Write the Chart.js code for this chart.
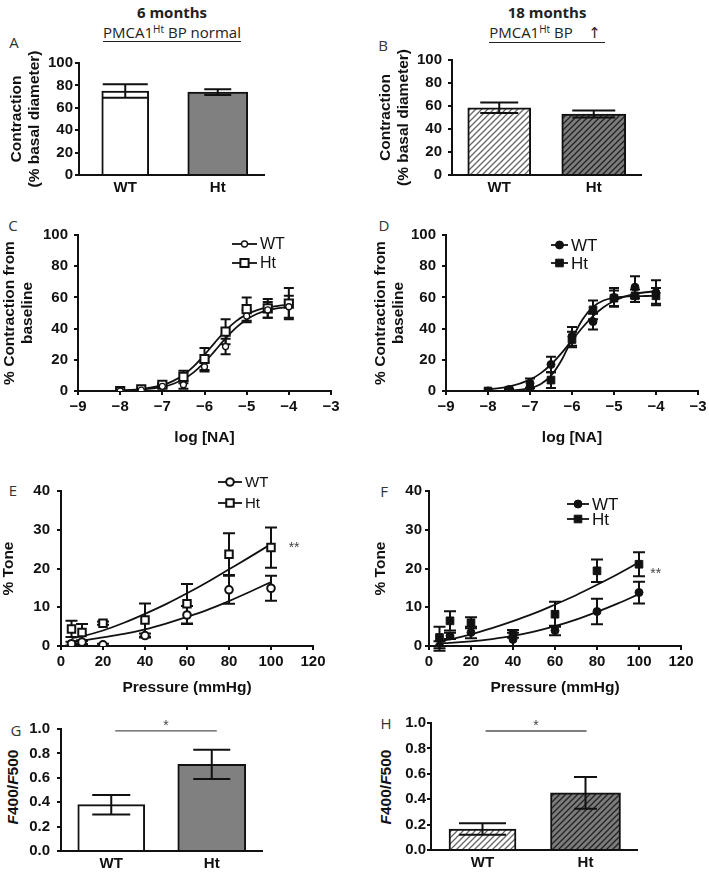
<!DOCTYPE html>
<html>
<head>
<meta charset="utf-8">
<title>PMCA1 arteries, 6 and 18 months</title>
<script src="https://cdn.jsdelivr.net/npm/chart.js@4.4.1/dist/chart.umd.min.js"></script>
<style>
  body { margin: 0; background: #fff; }
  #page { position: relative; width: 709px; height: 878px; overflow: hidden; font-family: 'Open Sans', sans-serif; color: #222; }
  #page canvas { position: absolute; }
  .txt { position: absolute; white-space: nowrap; }
  .head { font-weight: bold; font-size: 15px; line-height: 20px; text-align: center; }
  .subwrap { font-size: 15px; line-height: 18px; text-align: center; }
  .sub { display: inline-block; border-bottom: 1.5px solid #222; line-height: 17px; }
  sup { font-size: 10px; line-height: 0; vertical-align: 5px; }
  .arw { font-family: 'DejaVu Sans', sans-serif; font-size: 15px; }
  .letter { font-size: 15px; line-height: 20px; width: 20px; text-align: center; color: #333; }
  .ylab { font-family: 'Liberation Sans', Arial, sans-serif; font-weight: bold; font-size: 15.5px; line-height: 18px;
          width: 120px; text-align: center; transform: rotate(-90deg); color: #111; }
</style>
</head>
<body>
<div id="page">
  <div class="txt head" style="left:72px;top:2px;width:200px">6 months</div>
  <div class="txt head" style="left:447px;top:2px;width:200px">18 months</div>
  <div class="txt subwrap" style="left:72px;top:23px;width:200px"><span class="sub">PMCA1<sup>Ht</sup> BP normal</span></div>
  <div class="txt subwrap" style="left:447px;top:23px;width:200px"><span class="sub">PMCA1<sup>Ht</sup> BP&nbsp;&nbsp;&nbsp;&nbsp;<span class="arw">↑</span>&nbsp;</span></div>

  <div class="txt letter" style="left:4px;top:32px">A</div>
  <div class="txt letter" style="left:373px;top:35px">B</div>
  <div class="txt letter" style="left:3px;top:215px">C</div>
  <div class="txt letter" style="left:374px;top:215px">D</div>
  <div class="txt letter" style="left:3px;top:480px">E</div>
  <div class="txt letter" style="left:374px;top:481px">F</div>
  <div class="txt letter" style="left:6px;top:720px">G</div>
  <div class="txt letter" style="left:376px;top:713px">H</div>

  <div class="txt ylab" style="left:-47px;top:778px"><i>F</i>400/<i>F</i>500</div>
  <div class="txt ylab" style="left:326px;top:778px"><i>F</i>400/<i>F</i>500</div>
</div>
<script>
// bar panels (mean, sem)
var groups = ['WT', 'Ht'];
var contraction6m = [75, 74];
var contraction6mSem = [6, 2.5];
var contraction18m = [58.5, 53];
var contraction18mSem = [4.5, 3];
var ratio6m = [0.38, 0.71];
var ratio6mSem = [0.08, 0.12];
var ratio18m = [0.165, 0.45];
var ratio18mSem = [0.045, 0.125];

// NA concentration response
var logNA = [-8, -7.5, -7, -6.5, -6, -5.5, -5, -4.5, -4];
var naWT6m = [0, 0.5, 3, 4, 15.5, 28.5, 48, 52, 54];
var naWT6mSem = [0, 0.5, 1, 2.5, 3, 5, 4, 5, 7];
var naHt6m = [0, 1, 4, 9, 20.5, 38, 52.5, 53, 56];
var naHt6mSem = [0, 0.5, 1, 4, 7, 8, 7.5, 6, 10];
var naWT18m = [0, 1, 5, 17, 35, 44.5, 60, 66.5, 63];
var naWT18mSem = [0, 0.5, 3, 5, 6, 5, 6, 7, 8];
var naHt18m = [0, 0.5, 1, 7, 33, 52, 59.5, 61, 61];
var naHt18mSem = [0, 0.5, 1, 5, 5, 6, 5, 4, 5];
// fitted curves
var fitLogNA = [-8, -7.5, -7, -6.75, -6.5, -6.25, -6, -5.75, -5.5, -5.25, -5, -4.75, -4.5, -4.25, -4];
var fitWT6m = [0.3, 0.9, 2.6, 4.5, 7.5, 12.1, 18.3, 25.9, 33.7, 40.6, 45.8, 49.5, 51.7, 53.1, 53.9];
var fitHt6m = [0.4, 1.2, 3.7, 6.3, 10.2, 15.9, 23.2, 31.2, 38.7, 44.8, 49.1, 51.9, 53.6, 54.6, 55.2];
var fitWT18m = [1.0, 2.8, 7.3, 11.3, 17.0, 24.3, 32.5, 40.7, 48.0, 53.7, 57.7, 60.5, 62.2, 63.3, 64.0];
var fitHt18m = [0.1, 0.3, 1.8, 4.3, 9.8, 19.7, 33.3, 45.8, 53.9, 58.0, 59.7, 60.5, 60.8, 60.9, 61.0];

// myogenic tone
var pressure = [5, 10, 20, 40, 60, 80, 100];
var toneWT6m = [0.6, 1.0, 0.3, 2.7, 8.0, 14.5, 14.9];
var toneWT6mSem = [0.5, 0.5, 0.3, 0.5, 2.3, 3.6, 3.2];
var toneHt6m = [4.4, 3.5, 5.9, 6.7, 10.9, 23.7, 25.4];
var toneHt6mSem = [2.1, 2.2, 0.4, 4.3, 5.1, 5.4, 5.2];
var toneWT18m = [0, 2.6, 3.5, 1.7, 4.0, 8.9, 13.8];
var toneWT18mSem = [1.2, 0.8, 1.5, 1.7, 1.2, 3.3, 2.8];
var toneHt18m = [2.2, 6.5, 6.0, 3.1, 8.2, 19.4, 21.1];
var toneHt18mSem = [2.8, 2.5, 1.4, 1.0, 3.2, 2.9, 3.1];
var fitPressure = [5, 10, 20, 30, 40, 50, 60, 70, 80, 90, 100];
var fitToneWT6m = [1.2, 1.4, 2.2, 3.1, 4.3, 5.8, 7.5, 9.4, 11.6, 14.0, 16.5];
var fitToneHt6m = [2.0, 2.5, 4.0, 6.0, 8.3, 10.8, 13.6, 16.6, 19.8, 23.0, 26.3];
var fitToneWT18m = [0.7, 0.8, 1.2, 1.8, 2.6, 3.7, 5.1, 6.8, 8.8, 11.0, 13.4];
var fitToneHt18m = [1.2, 1.7, 3.0, 4.6, 6.4, 8.4, 10.7, 13.1, 15.8, 18.6, 21.6];

var FONT = "'Liberation Sans', Arial, sans-serif";
var INK = '#111';
var page = document.getElementById('page');

Chart.defaults.font.family = FONT;
Chart.defaults.color = INK;
Chart.defaults.animation = false;
Chart.defaults.events = [];
Chart.defaults.plugins.legend.display = false;
Chart.defaults.plugins.tooltip.enabled = false;

function drawErrors(chart, o) {
  var ctx = chart.ctx, ys = chart.scales.y;
  ctx.save();
  ctx.strokeStyle = INK;
  ctx.lineWidth = 2;
  o.sets.forEach(function(s) {
    var meta = chart.getDatasetMeta(s.ds);
    var data = chart.data.datasets[s.ds].data;
    meta.data.forEach(function(el, i) {
      var v = data[i];
      if (v === null || v === undefined || !s.err[i]) return;
      var y = typeof v === 'object' ? v.y : v;
      var top = ys.getPixelForValue(y + s.err[i]);
      var bot = ys.getPixelForValue(y - s.err[i]);
      var c = s.cap / 2;
      ctx.beginPath();
      ctx.moveTo(el.x, top); ctx.lineTo(el.x, bot);
      ctx.moveTo(el.x - c, top); ctx.lineTo(el.x + c, top);
      ctx.moveTo(el.x - c, bot); ctx.lineTo(el.x + c, bot);
      ctx.stroke();
    });
  });
  ctx.restore();
}

var errorBars = {
  id: 'errorBars',
  beforeDatasetsDraw: function(chart, args, o) { if (o.sets && o.under) drawErrors(chart, o); },
  afterDatasetsDraw: function(chart, args, o) { if (o.sets && !o.under) drawErrors(chart, o); }
};

function marker(ctx, ds, x, y) {
  var r = ds.pointRadius;
  ctx.fillStyle = ds.pointBackgroundColor;
  ctx.strokeStyle = ds.pointBorderColor;
  ctx.lineWidth = ds.pointBorderWidth;
  ctx.beginPath();
  if (ds.pointStyle === 'rect') {
    var h = r * Math.SQRT1_2;
    ctx.rect(x - h, y - h, 2 * h, 2 * h);
  } else {
    ctx.arc(x, y, r, 0, Math.PI * 2);
  }
  ctx.fill();
  ctx.stroke();
}

var keyBox = {
  id: 'keyBox',
  afterDraw: function(chart, args, o) {
    if (!o.rows) return;
    var ctx = chart.ctx;
    ctx.save();
    o.rows.forEach(function(idx, i) {
      var ds = chart.data.datasets[idx];
      var y = o.y + i * o.gap;
      ctx.strokeStyle = INK;
      ctx.lineWidth = 1.8;
      ctx.beginPath(); ctx.moveTo(o.x, y); ctx.lineTo(o.x + o.len, y); ctx.stroke();
      marker(ctx, ds, o.x + o.len / 2, y);
      ctx.fillStyle = INK;
      ctx.font = o.size + 'px ' + FONT;
      ctx.textBaseline = 'middle';
      ctx.textAlign = 'left';
      ctx.fillText(ds.label, o.x + o.len + 3, y + 1);
    });
    ctx.restore();
  }
};

var notes = {
  id: 'notes',
  afterDraw: function(chart, args, o) {
    var ctx = chart.ctx, xs = chart.scales.x, ys = chart.scales.y;
    ctx.save();
    ctx.fillStyle = '#444';
    ctx.textAlign = 'center';
    ctx.textBaseline = 'middle';
    ctx.font = '14px ' + FONT;
    if (o.star) {
      ctx.fillText(o.star.text, xs.getPixelForValue(o.star.x), ys.getPixelForValue(o.star.y));
    }
    if (o.bracket) {
      var b = o.bracket;
      var x0 = xs.getPixelForValue(b.from), x1 = xs.getPixelForValue(b.to), y = ys.getPixelForValue(b.y);
      ctx.strokeStyle = '#555';
      ctx.lineWidth = 1.3;
      ctx.beginPath(); ctx.moveTo(x0, y); ctx.lineTo(x1, y); ctx.stroke();
      ctx.fillText(b.text, (x0 + x1) / 2, y - 5);
    }
    ctx.restore();
  }
};

Chart.register(errorBars, keyBox, notes);

function hatch(bg, ink) {
  var t = document.createElement('canvas');
  t.width = 6; t.height = 6;
  var c = t.getContext('2d');
  c.fillStyle = bg;
  c.fillRect(0, 0, 6, 6);
  c.strokeStyle = ink;
  c.lineWidth = 1.3;
  c.beginPath();
  c.moveTo(-1, 7); c.lineTo(7, -1);
  c.moveTo(-1, 1); c.lineTo(1, -1);
  c.moveTo(5, 7); c.lineTo(7, 5);
  c.stroke();
  return c.createPattern(t, 'repeat');
}

function yAxis(min, max, step, gap, title, titlePad, fmt) {
  var ax = {
    min: min, max: max,
    ticks: { stepSize: step, padding: gap, color: INK, autoSkip: false, font: { size: 15, weight: 'bold' } },
    grid: { drawOnChartArea: false, drawTicks: true, tickLength: 4, color: INK, lineWidth: 2 },
    border: { color: INK, width: 2 },
    title: { display: false }
  };
  if (fmt) ax.ticks.callback = fmt;
  if (title) {
    ax.title = { display: true, text: title, color: INK, font: { size: 15.5, weight: 'bold', lineHeight: 1.16 },
                 padding: { top: titlePad, bottom: 0 } };
  }
  return ax;
}

function xLinear(min, max, step, title, titlePad, fmt) {
  var ax = {
    type: 'linear', min: min, max: max,
    ticks: { stepSize: step, padding: 3, color: INK, autoSkip: false, font: { size: 15, weight: 'bold' } },
    grid: { drawOnChartArea: false, drawTicks: true, tickLength: 4, color: INK, lineWidth: 2 },
    border: { color: INK, width: 2 },
    title: { display: true, text: title, color: INK, font: { size: 15.5, weight: 'bold', lineHeight: 1.16 },
             padding: { top: 0, bottom: titlePad } }
  };
  if (fmt) ax.ticks.callback = fmt;
  return ax;
}

function xCategory() {
  return {
    type: 'category', offset: true,
    grid: { display: false, drawTicks: false },
    border: { color: INK, width: 2 },
    ticks: { padding: 4, color: INK, font: { size: 15, weight: 'bold' } }
  };
}

function barSet(label, vals, idx, fill, thick) {
  return {
    label: label,
    data: groups.map(function(g, i) { return i === idx ? vals[i] : null; }),
    backgroundColor: fill, borderColor: INK, borderWidth: 2,
    barThickness: thick, skipNull: true, borderSkipped: 'bottom'
  };
}

function pts(xs, ys) {
  return xs.map(function(x, i) { return { x: x, y: ys[i] }; });
}

function dots(label, xs, ys, shape, r, fill, bw) {
  return {
    label: label, data: pts(xs, ys), showLine: false,
    pointStyle: shape, pointRadius: r, pointHoverRadius: r,
    pointBackgroundColor: fill, pointBorderColor: INK, pointBorderWidth: bw
  };
}

function curve(label, xs, ys) {
  return {
    label: label, data: pts(xs, ys), showLine: true, fill: false,
    borderColor: INK, borderWidth: 1.8, pointRadius: 0, cubicInterpolationMode: 'monotone'
  };
}

function panel(box, area, type, data, scales, plugins) {
  var cv = document.createElement('canvas');
  cv.width = box.w; cv.height = box.h;
  cv.style.left = box.x + 'px';
  cv.style.top = box.y + 'px';
  page.appendChild(cv);
  var yW = area.l - box.x, xH = box.y + box.h - area.b;
  scales.y.afterFit = function(s) { s.width = yW; s.paddingTop = 0; s.paddingBottom = 0; };
  scales.x.afterFit = function(s) { s.height = xH; s.paddingLeft = 0; s.paddingRight = 0; };
  return new Chart(cv, {
    type: type,
    data: data,
    options: {
      responsive: false,
      layout: { padding: { top: area.t - box.y, right: box.x + box.w - area.r, left: 0, bottom: 0 } },
      scales: scales,
      plugins: plugins
    }
  });
}

var minus = function(v) { return v < 0 ? '\u2212' + Math.abs(v) : String(v); };
var oneDec = function(v) { return v.toFixed(1); };
var darkHatch = hatch('#7c7c7c', '#222');
var lightHatch = hatch('#ffffff', '#666');

// A
panel({ x: 0, y: 45, w: 290, h: 155 }, { l: 79, t: 63, r: 264, b: 175 }, 'bar',
  { labels: groups, datasets: [
    barSet('WT', contraction6m, 0, '#ffffff', 47),
    barSet('Ht', contraction6m, 1, '#808080', 60)
  ] },
  { x: xCategory(), y: yAxis(0, 100, 20, 2, ['Contraction', '(% basal diameter)'], 8) },
  { errorBars: { sets: [{ ds: 0, err: contraction6mSem, cap: 45 }, { ds: 1, err: contraction6mSem, cap: 27 }] } });

// B
panel({ x: 354, y: 45, w: 330, h: 155 }, { l: 452, t: 60, r: 641, b: 175 }, 'bar',
  { labels: groups, datasets: [
    barSet('WT', contraction18m, 0, lightHatch, 63),
    barSet('Ht', contraction18m, 1, darkHatch, 64)
  ] },
  { x: xCategory(), y: yAxis(0, 100, 20, 6, ['Contraction', '(% basal diameter)'], 23) },
  { errorBars: { sets: [{ ds: 0, err: contraction18mSem, cap: 38 }, { ds: 1, err: contraction18mSem, cap: 43 }] } });

// C
panel({ x: 0, y: 220, w: 345, h: 232 }, { l: 78, t: 235, r: 331, b: 391 }, 'scatter',
  { datasets: [
    dots('WT', logNA, naWT6m, 'circle', 3, '#ffffff', 1.3),
    dots('Ht', logNA, naHt6m, 'rect', 5.8, '#ffffff', 2),
    curve('WT fit', fitLogNA, fitWT6m),
    curve('Ht fit', fitLogNA, fitHt6m)
  ] },
  { x: xLinear(-9, -3, 1, 'log [NA]', 5, minus),
    y: yAxis(0, 100, 20, 6, ['% Contraction from', 'baseline'], 1) },
  { errorBars: { under: true, sets: [{ ds: 0, err: naWT6mSem, cap: 10 }, { ds: 1, err: naHt6mSem, cap: 10 }] },
    keyBox: { x: 232, y: 24, len: 25, gap: 19, size: 16, rows: [0, 1] } });

// D
panel({ x: 354, y: 220, w: 355, h: 232 }, { l: 446, t: 235, r: 698, b: 391 }, 'scatter',
  { datasets: [
    dots('WT', logNA, naWT18m, 'circle', 4, INK, 1),
    dots('Ht', logNA, naHt18m, 'rect', 5.4, INK, 1),
    curve('WT fit', fitLogNA, fitWT18m),
    curve('Ht fit', fitLogNA, fitHt18m)
  ] },
  { x: xLinear(-9, -3, 1, 'log [NA]', 5, minus),
    y: yAxis(0, 100, 20, 6, ['% Contraction from', 'baseline'], 18) },
  { errorBars: { under: true, sets: [{ ds: 0, err: naWT18mSem, cap: 10 }, { ds: 1, err: naHt18mSem, cap: 10 }] },
    keyBox: { x: 197, y: 25, len: 17, gap: 18, size: 17, rows: [0, 1] } });

// E
panel({ x: 0, y: 470, w: 330, h: 230 }, { l: 61, t: 491, r: 313, b: 646 }, 'scatter',
  { datasets: [
    dots('WT', pressure, toneWT6m, 'circle', 3.8, '#ffffff', 2),
    dots('Ht', pressure, toneHt6m, 'rect', 5.3, '#ffffff', 2),
    curve('WT fit', fitPressure, fitToneWT6m),
    curve('Ht fit', fitPressure, fitToneHt6m)
  ] },
  { x: xLinear(0, 120, 20, 'Pressure (mmHg)', 3),
    y: yAxis(0, 40, 10, 7, '% Tone', 0) },
  { errorBars: { under: true, sets: [{ ds: 0, err: toneWT6mSem, cap: 12 }, { ds: 1, err: toneHt6mSem, cap: 12 }] },
    keyBox: { x: 218, y: 12, len: 24, gap: 21, size: 15, rows: [0, 1] },
    notes: { star: { x: 111, y: 25.3, text: '**' } } });

// F
panel({ x: 354, y: 470, w: 345, h: 230 }, { l: 429, t: 491, r: 681, b: 646 }, 'scatter',
  { datasets: [
    dots('WT', pressure, toneWT18m, 'circle', 4, INK, 1),
    dots('Ht', pressure, toneHt18m, 'rect', 5.4, INK, 1),
    curve('WT fit', fitPressure, fitToneWT18m),
    curve('Ht fit', fitPressure, fitToneHt18m)
  ] },
  { x: xLinear(0, 120, 20, 'Pressure (mmHg)', 3),
    y: yAxis(0, 40, 10, 3, '% Tone', 18) },
  { errorBars: { under: true, sets: [{ ds: 0, err: toneWT18mSem, cap: 12 }, { ds: 1, err: toneHt18mSem, cap: 12 }] },
    keyBox: { x: 213, y: 34, len: 22, gap: 15, size: 17, rows: [0, 1] },
    notes: { star: { x: 108, y: 18.6, text: '**' } } });

// G
panel({ x: 0, y: 700, w: 290, h: 178 }, { l: 61, t: 729, r: 262, b: 851 }, 'bar',
  { labels: groups, datasets: [
    barSet('WT', ratio6m, 0, '#ffffff', 67),
    barSet('Ht', ratio6m, 1, '#808080', 68)
  ] },
  { x: xCategory(), y: yAxis(0, 1, 0.2, 7, null, 0, oneDec) },
  { errorBars: { sets: [{ ds: 0, err: ratio6mSem, cap: 38 }, { ds: 1, err: ratio6mSem, cap: 37 }] },
    notes: { bracket: { from: 0.04, to: 1.05, y: 0.984, text: '*' } } });

// H
panel({ x: 354, y: 700, w: 330, h: 178 }, { l: 431, t: 723, r: 637, b: 850 }, 'bar',
  { labels: groups, datasets: [
    barSet('WT', ratio18m, 0, lightHatch, 67),
    barSet('Ht', ratio18m, 1, darkHatch, 70)
  ] },
  { x: xCategory(), y: yAxis(0, 1, 0.2, 1, null, 0, oneDec) },
  { errorBars: { sets: [{ ds: 0, err: ratio18mSem, cap: 47 }, { ds: 1, err: ratio18mSem, cap: 23 }] },
    notes: { bracket: { from: 0.03, to: 1.01, y: 0.937, text: '*' } } });
</script>
</body>
</html>
